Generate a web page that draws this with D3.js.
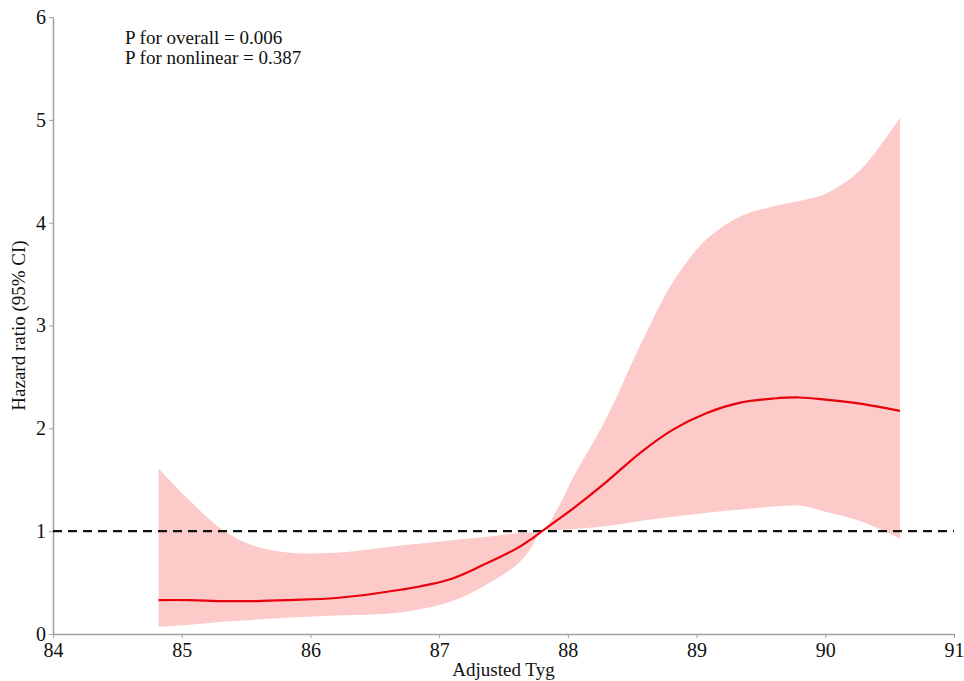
<!DOCTYPE html>
<html>
<head>
<meta charset="utf-8">
<script src="https://cdn.jsdelivr.net/npm/d3@7"></script>
<style>
  html, body { margin: 0; padding: 0; background: #fff; }
  svg { display: block; }
  svg text { font-family: "Liberation Serif", "Times New Roman", Times, "DejaVu Serif", serif !important; }
</style>
</head>
<body>
<svg id="chart" width="964" height="681"></svg>
<script>
// ---- data ----
const xValues = [84.82, 85.06, 85.32, 85.58, 85.84, 86.2, 86.7, 87.08, 87.34, 87.6, 87.7, 87.8, 87.92, 88.04, 88.3, 88.56, 88.82, 89.08, 89.34, 89.6, 89.8, 90.0, 90.27, 90.58];
const hrValues = [0.33, 0.33, 0.32, 0.32, 0.33, 0.35, 0.43, 0.53, 0.67, 0.83, 0.91, 1.0, 1.11, 1.22, 1.48, 1.76, 1.99, 2.15, 2.25, 2.29, 2.30, 2.28, 2.24, 2.17];
const lowerValues = [0.07, 0.09, 0.12, 0.14, 0.16, 0.18, 0.21, 0.31, 0.46, 0.67, 0.81, 1.0, 1.01, 1.02, 1.05, 1.10, 1.14, 1.18, 1.21, 1.24, 1.25, 1.19, 1.10, 0.93];
const upperValues = [1.61, 1.30, 1.01, 0.85, 0.79, 0.79, 0.86, 0.91, 0.94, 0.98, 0.99, 1.0, 1.22, 1.52, 2.10, 2.80, 3.43, 3.84, 4.06, 4.16, 4.21, 4.28, 4.51, 5.02];
const xTicks = [84, 85, 86, 87, 88, 89, 90, 91];
const yTicks = [0, 1, 2, 3, 4, 5, 6];
const refValue = 1;
const annotations = ["P for overall = 0.006", "P for nonlinear = 0.387"];
const xTitle = "Adjusted Tyg";
const yTitle = "Hazard ratio (95% CI)";

// ---- layout ----
const svg = d3.select("#chart");
const x = d3.scaleLinear().domain([84, 91]).range([53, 954]);
const y = d3.scaleLinear().domain([0, 6]).range([634, 17]);

const rows = xValues.map((v, i) => ({ x: v, hr: hrValues[i], lo: lowerValues[i], hi: upperValues[i] }));
const curve = d3.curveCatmullRom.alpha(0.5);

// CI band
svg.append("path")
  .datum(rows)
  .attr("fill", "#fdcaca")
  .attr("stroke", "none")
  .attr("d", d3.area().x(d => x(d.x)).y0(d => y(d.lo)).y1(d => y(d.hi)).curve(curve));

// axes
const axisColor = "#a0a0a0";
const gx = svg.append("g").attr("transform", `translate(0,${y(0)})`)
  .call(d3.axisBottom(x).tickValues(xTicks).tickSize(4).tickSizeOuter(0).tickFormat(d3.format("d")));
const gy = svg.append("g").attr("transform", `translate(${x(84)},0)`)
  .call(d3.axisLeft(y).tickValues(yTicks).tickSize(4).tickSizeOuter(0).tickFormat(d3.format("d")));
[gx, gy].forEach(g => {
  g.attr("font-family", null);
  g.select(".domain").attr("stroke", axisColor).attr("stroke-width", 1.5);
  g.selectAll(".tick line").attr("stroke", axisColor);
  g.selectAll(".tick text").attr("fill", "#111").style("font-size", "20px");
});
gx.selectAll(".tick text").attr("dy", "0.9em").attr("y", 5);
gy.selectAll(".tick text").attr("x", -7);

// reference line
svg.append("line")
  .attr("x1", x(84)).attr("x2", x(91))
  .attr("y1", y(refValue)).attr("y2", y(refValue))
  .attr("stroke", "#111").attr("stroke-width", 2.2)
  .attr("stroke-dasharray", "9,6");

// HR curve
svg.append("path")
  .datum(rows)
  .attr("fill", "none")
  .attr("stroke", "#e8000b")
  .attr("stroke-width", 2.2)
  .attr("d", d3.line().x(d => x(d.x)).y(d => y(d.hr)).curve(curve));

// annotations
annotations.forEach((t, i) => {
  svg.append("text").attr("x", 125).attr("y", 44 + i * 20)
    .attr("fill", "#111").style("font-size", "19px").text(t);
});

// axis titles
svg.append("text").attr("x", (x(84) + x(91)) / 2).attr("y", 676)
  .attr("text-anchor", "middle").attr("fill", "#111").style("font-size", "19px").text(xTitle);
svg.append("text")
  .attr("transform", `translate(25,${(y(0) + y(6)) / 2}) rotate(-90)`)
  .attr("text-anchor", "middle").attr("fill", "#111").style("font-size", "19px").text(yTitle);
</script>
</body>
</html>
